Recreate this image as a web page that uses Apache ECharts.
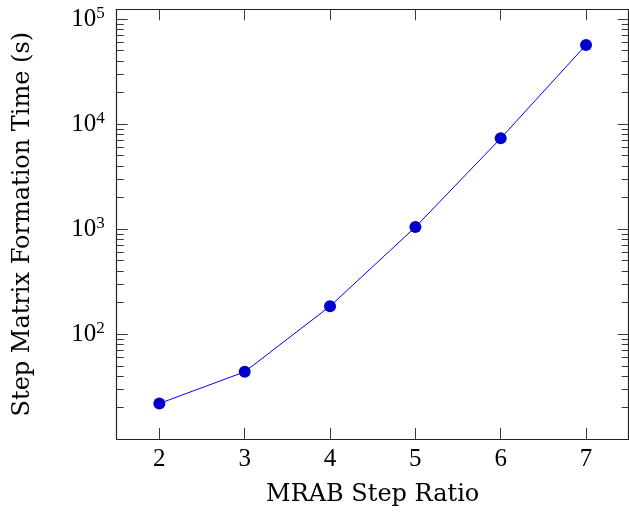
<!DOCTYPE html>
<html><head><meta charset="utf-8">
<script src="https://cdn.jsdelivr.net/npm/echarts@6/dist/echarts.min.js"></script>
<style>html,body{margin:0;padding:0;background:#fff}#c{width:629px;height:512px}</style>
</head><body><div id="c"></div>
<script>
const stepRatios = [2, 3, 4, 5, 6, 7];
const formationTimes = [21.9, 43.8, 184.5, 1045, 7310, 56600];
const xTickValues = [2, 3, 4, 5, 6, 7];
const yMajorTicks = [100, 1000, 10000, 100000];
const yMinorTicks = [20, 30, 40, 50, 60, 70, 80, 90,
  200, 300, 400, 500, 600, 700, 800, 900,
  2000, 3000, 4000, 5000, 6000, 7000, 8000, 9000,
  20000, 30000, 40000, 50000, 60000, 70000, 80000, 90000];
const xLimits = [1.5, 7.5];
const yLimits = [10.05, 123600];
const xTitle = 'MRAB Step Ratio';
const yTitle = 'Step Matrix Formation Time (s)';

const numFont = 'Liberation Serif';
const nameFont = 'DejaVu Serif';
const spine = { show: true, onZero: false, lineStyle: { color: '#222', width: 1.2 } };

function xAxisDef(pos, withLabels, tickColor) {
  return {
    type: 'value', position: pos, min: xLimits[0], max: xLimits[1],
    axisLine: spine,
    axisTick: { show: true, inside: true, length: 11, customValues: xTickValues, lineStyle: { color: tickColor, width: 1 } },
    axisLabel: withLabels ? { show: true, customValues: xTickValues, margin: 8, fontFamily: numFont, fontSize: 25, color: '#000' } : { show: false },
    splitLine: { show: false },
    name: withLabels ? xTitle : '', nameLocation: 'middle', nameGap: 44,
    nameTextStyle: { fontFamily: nameFont, fontSize: 24, color: '#000' }
  };
}
function yAxisDef(pos, ticks, len, withLabels, showLine, tickColor) {
  return {
    type: 'log', logBase: 10, position: pos, min: yLimits[0], max: yLimits[1],
    axisLine: showLine ? spine : { show: false },
    axisTick: { show: true, inside: true, length: len, customValues: ticks, lineStyle: { color: tickColor, width: 1 } },
    axisLabel: withLabels ? {
      show: true, customValues: ticks, margin: 12,
      formatter: function (v) { return '{b|10}{s|' + Math.round(Math.log10(v)) + '}'; },
      rich: {
        b: { fontFamily: numFont, fontSize: 25, color: '#000', lineHeight: 28 },
        s: { fontFamily: numFont, fontSize: 17, color: '#000', lineHeight: 18, verticalAlign: 'top' }
      }
    } : { show: false },
    splitLine: { show: false }, minorTick: { show: false },
    name: withLabels ? yTitle : '', nameLocation: 'middle', nameGap: 82,
    nameTextStyle: { fontFamily: nameFont, fontSize: 24, color: '#000' }
  };
}

const chart = echarts.init(document.getElementById('c'), null, { renderer: 'canvas' });
chart.setOption({
  animation: false,
  backgroundColor: '#fff',
  grid: { left: 116.7, top: 9.3, width: 512, height: 430.2, containLabel: false },
  xAxis: [xAxisDef('bottom', true, '#3a3a3a'), xAxisDef('top', false, '#3b3b3b')],
  yAxis: [
    yAxisDef('left', yMajorTicks, 11, true, true, '#393939'),
    yAxisDef('right', yMajorTicks, 11, false, true, '#3c3c3c'),
    yAxisDef('right', yMinorTicks, 7, false, false, '#383838'),
    yAxisDef('left', yMinorTicks, 7, false, false, '#373737')
  ],
  series: [{
    type: 'line', xAxisIndex: 0, yAxisIndex: 0,
    data: stepRatios.map((x, i) => [x, formationTimes[i]]),
    symbol: 'circle', symbolSize: 12,
    lineStyle: { color: '#0000ff', width: 1 },
    itemStyle: { color: '#0000cc' }
  }]
});
</script></body></html>
